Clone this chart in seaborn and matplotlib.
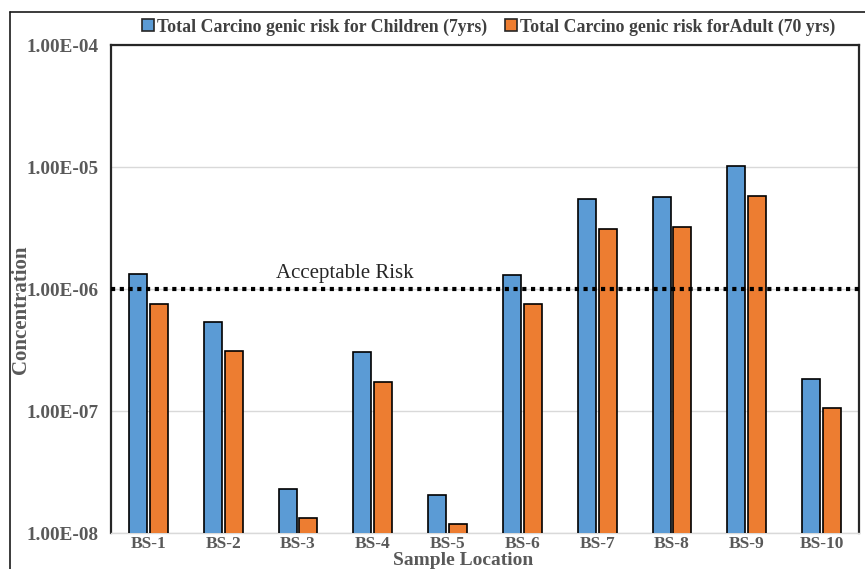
import matplotlib
matplotlib.use("Agg")
import matplotlib.pyplot as plt
from matplotlib.patches import Patch
from matplotlib.lines import Line2D
from matplotlib.ticker import FixedLocator, FuncFormatter, NullLocator
import numpy as np
import pandas as pd
import seaborn as sns

# Total carcinogenic risk per sampling location
locations = ["BS-1", "BS-2", "BS-3", "BS-4", "BS-5",
             "BS-6", "BS-7", "BS-8", "BS-9", "BS-10"]
risk_children = [1.32e-6, 5.4e-7, 2.3e-8, 3.05e-7, 2.05e-8,
                 1.30e-6, 5.45e-6, 5.65e-6, 1.02e-5, 1.84e-7]
risk_adult = [7.6e-7, 3.1e-7, 1.33e-8, 1.74e-7, 1.18e-8,
              7.5e-7, 3.1e-6, 3.22e-6, 5.8e-6, 1.06e-7]
series_names = ["Total Carcino genic risk for Children (7yrs)",
                "Total Carcino genic risk forAdult (70 yrs)"]
acceptable_risk = 1e-6
y_ticks = [1e-8, 1e-7, 1e-6, 1e-5, 1e-4]

colors = ["#5B9BD5", "#ED7D31"]

df = pd.DataFrame({
    "Location": locations * 2,
    "Risk": risk_children + risk_adult,
    "Group": [series_names[0]] * len(locations) + [series_names[1]] * len(locations),
})

sns.set_theme(style="white")
plt.rcParams["font.family"] = ["Liberation Serif", "DejaVu Serif"]

fig = plt.figure(figsize=(8.65, 5.69), dpi=100)
W, H = 865, 569
ax = fig.add_axes([111 / W, 1 - 533 / H, (859 - 111) / W, (533 - 45) / H])

sns.barplot(data=df, x="Location", y="Risk", hue="Group", hue_order=series_names,
            palette=colors, saturation=1, width=0.56, gap=0.14, edgecolor="black",
            linewidth=1.2, legend=False, ax=ax, zorder=3)
ax.set_yscale("log")

ax.set_ylim(1e-8, 1e-4)
ax.set_xlim(-0.5, len(locations) - 0.5)
ax.yaxis.set_major_locator(FixedLocator(y_ticks))
ax.yaxis.set_minor_locator(NullLocator())
ax.yaxis.set_major_formatter(FuncFormatter(lambda v, p: f"{v:.2E}"))
ax.grid(axis="y", color="#D9D9D9", linewidth=1.0, zorder=0)
ax.grid(axis="x", visible=False)
ax.set_axisbelow(True)

ax.tick_params(axis="y", length=0, pad=9, labelsize=13.8, labelcolor="#595959")
ax.tick_params(axis="x", length=0, pad=2, labelsize=12.5, labelcolor="#595959")
for lab in ax.get_xticklabels() + ax.get_yticklabels():
    lab.set_fontweight("bold")

for side in ["left", "top", "right"]:
    ax.spines[side].set_color("#262626")
    ax.spines[side].set_linewidth(1.6)
ax.spines["bottom"].set_color("#D9D9D9")
ax.spines["bottom"].set_linewidth(1.0)

ax.set_xlabel("")
ax.set_ylabel("")

# acceptable risk threshold
ax.axhline(acceptable_risk, color="black", linestyle=(0, (1, 1.1)),
           linewidth=3.0, zorder=4)
ax.text(2.63, acceptable_risk * 1.12, "Acceptable Risk", ha="center",
        va="bottom", fontsize=15, color="#262626")

fig.text(463 / W, 1 - 569 / H, "Sample Location", ha="center", va="bottom",
         fontsize=14, fontweight="bold", color="#595959")
fig.text(21 / W, 1 - 310 / H, "Concentration", ha="center", va="center",
         rotation=90, fontsize=15, fontweight="bold", color="#595959")

handles = [Patch(facecolor=c, edgecolor="#262626", linewidth=1.2) for c in colors]
fig.legend(handles, series_names, loc="center left",
           bbox_to_anchor=(142 / W, 1 - 27 / H), ncol=2, frameon=False,
           handlelength=0.65, handleheight=0.65, handletextpad=0.2,
           columnspacing=1.0, borderaxespad=0, borderpad=0,
           prop={"family": "Liberation Serif", "weight": "bold", "size": 12.8},
           labelcolor="#404040")

# outer frame around the chart
fig.add_artist(Line2D([10 / W, 1.0], [1 - 12 / H, 1 - 12 / H],
                      transform=fig.transFigure, color="#1a1a1a", linewidth=1.2))
fig.add_artist(Line2D([10 / W, 10 / W], [0.0, 1 - 12 / H],
                      transform=fig.transFigure, color="#1a1a1a", linewidth=1.2))

fig.savefig("out.png", dpi=100, facecolor="white")
